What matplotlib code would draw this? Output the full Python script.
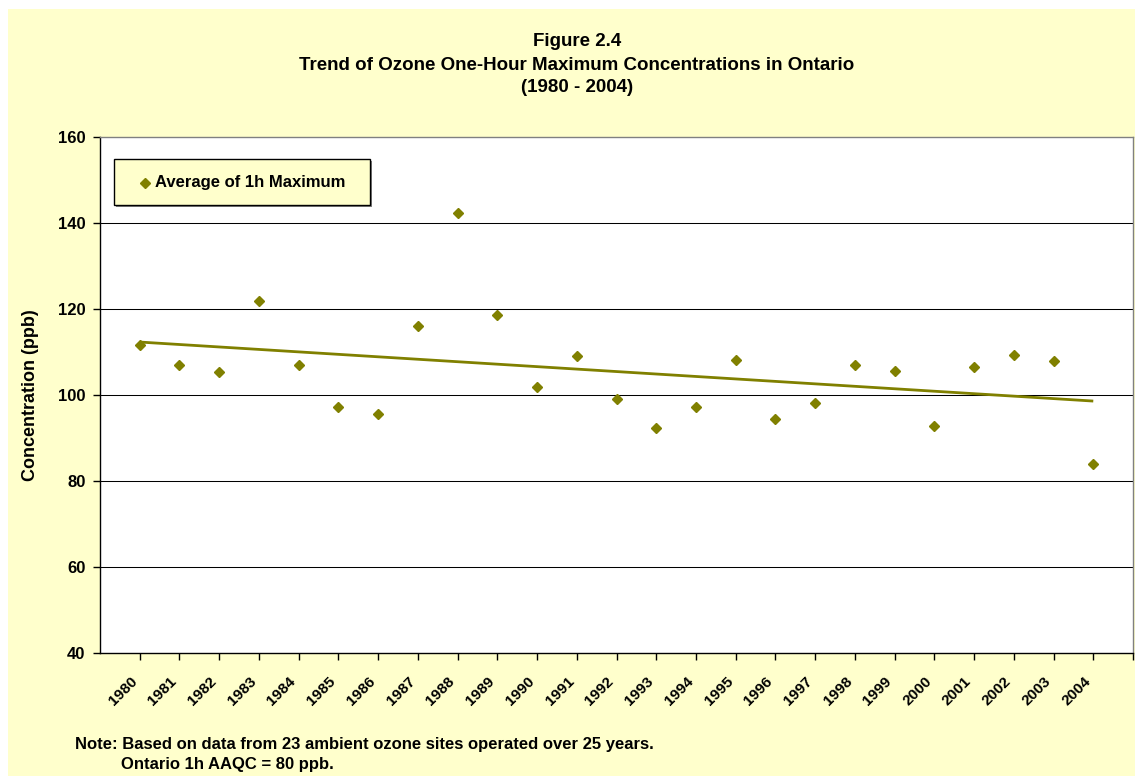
import numpy as np
import matplotlib
matplotlib.use("Agg")
import matplotlib.pyplot as plt
from matplotlib.patches import Rectangle
from matplotlib.lines import Line2D
import matplotlib.transforms as mtransforms

# ---- data ----
years = list(range(1980, 2005))
avg_1h_max = [111.7, 107.0, 105.3, 121.9, 107.0, 97.3, 95.5, 116.0, 142.3, 118.5,
              101.8, 109.1, 99.1, 92.4, 97.3, 108.2, 94.5, 98.2, 107.0, 105.6,
              92.9, 106.5, 109.2, 108.0, 84.0]
year_labels = [str(y) for y in years]
y_ticks = [40, 60, 80, 100, 120, 140, 160]

title_lines = ["Figure 2.4",
               "Trend of Ozone One-Hour Maximum Concentrations in Ontario",
               "(1980 - 2004)"]
series_name = "Average of 1h Maximum"
y_label = "Concentration (ppb)"
note_1 = "Note: Based on data from 23 ambient ozone sites operated over 25 years."
note_2 = "Ontario 1h AAQC = 80 ppb."

# ---- style ----
FONT = "Liberation Sans"
BG = "#FFFFCC"
OLIVE = "#808000"
W, H = 1135, 776

plt.rcParams['font.family'] = [FONT, 'DejaVu Sans']
plt.rcParams['font.weight'] = 'bold'


def fx(px):
    return px / W


def fy(py):
    return 1 - py / H


fig = plt.figure(figsize=(W / 100, H / 100), dpi=100)
fig.patch.set_facecolor("white")
# yellow chart area (white margin top & left)
fig.patches.append(Rectangle((fx(8), 0), 1 - fx(8), fy(9), transform=fig.transFigure,
                             facecolor=BG, edgecolor="none", zorder=-10))

ax = fig.add_axes([fx(100), fy(653), fx(1133) - fx(100), fy(137) - fy(653)])
ax.set_facecolor("white")

x = np.array(years, dtype=float)
yv = np.array(avg_1h_max)

# gridlines
for t in y_ticks[1:-1]:
    ax.axhline(t, color="#000000", lw=0.75, zorder=1)

ax.plot(x, yv, linestyle="none", marker="D", ms=5.6, color=OLIVE,
        markeredgecolor=OLIVE, zorder=3)

# linear trend line
coef = np.polyfit(x, yv, 1)
ax.plot([x[0], x[-1]], np.polyval(coef, [x[0], x[-1]]), color=OLIVE, lw=2.0,
        zorder=2, solid_capstyle="butt")

ax.set_xlim(1979, 2005)
ax.set_ylim(40, 160)
ax.set_yticks(y_ticks)
ax.set_yticklabels([str(t) for t in y_ticks], fontsize=12, fontweight="bold")
ax.set_xticks(list(years) + [2005])
ax.set_xticklabels(year_labels + [""], fontsize=11, fontweight="bold",
                   rotation=45, ha="right", va="top")
offset = mtransforms.ScaledTranslation(-9 / 100, 0, fig.dpi_scale_trans)
for lab in ax.get_xticklabels():
    lab.set_transform(lab.get_transform() + offset)

ax.tick_params(axis="x", direction="out", length=5, width=1, pad=10, color="black")
ax.tick_params(axis="y", direction="out", length=5, width=1, pad=5.5, color="black")

for s in ["left", "bottom"]:
    ax.spines[s].set_color("black")
    ax.spines[s].set_linewidth(1.0)
for s in ["top", "right"]:
    ax.spines[s].set_color("#808080")
    ax.spines[s].set_linewidth(1.0)

fig.text(fx(31), fy(395), y_label, rotation=90, ha="center", va="center",
         fontsize=13, fontweight="bold")

# legend box (drawn by hand to match the reference padding)
fig.add_artist(Rectangle((fx(116), fy(207)), fx(370) - fx(114), fy(159) - fy(205),
                         transform=fig.transFigure, facecolor="#808080",
                         edgecolor="none", zorder=5))
fig.add_artist(Rectangle((fx(114), fy(205)), fx(370) - fx(114), fy(159) - fy(205),
                         transform=fig.transFigure, facecolor=BG,
                         edgecolor="black", lw=1.0, zorder=6))
fig.add_artist(Line2D([fx(145)], [fy(183)], transform=fig.transFigure,
                      marker="D", ms=5.6, color=OLIVE, linestyle="none", zorder=7))
fig.text(fx(155), fy(183), series_name, ha="left", va="center",
         fontsize=12, fontweight="bold", zorder=7)

# titles
for txt, yy in zip(title_lines, [42, 65, 88]):
    fig.text(fx(577), fy(yy), txt, ha="center", va="center",
             fontsize=13.5, fontweight="bold")

fig.text(fx(75), fy(745), note_1, ha="left", va="center", fontsize=12, fontweight="bold")
fig.text(fx(121), fy(765), note_2, ha="left", va="center", fontsize=12, fontweight="bold")

fig.savefig("out.png", dpi=100, facecolor=fig.get_facecolor())
